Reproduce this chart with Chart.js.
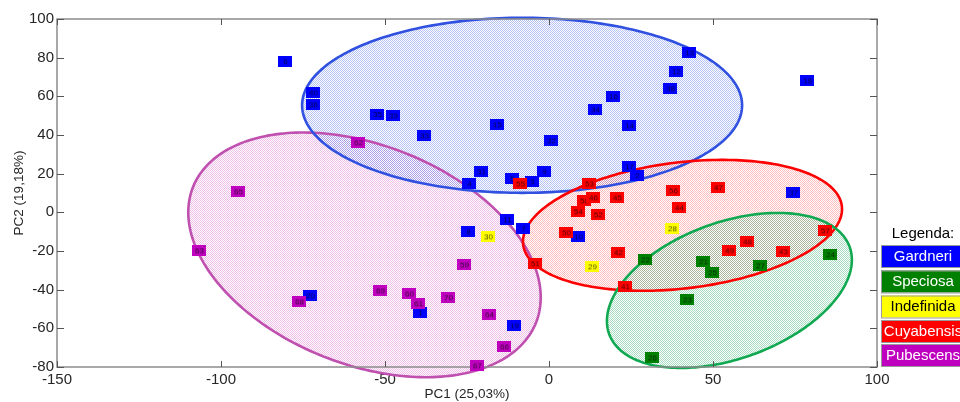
<!DOCTYPE html>
<html>
<head>
<meta charset="utf-8">
<script src="https://cdn.jsdelivr.net/npm/chart.js@4.4.1/dist/chart.umd.min.js"></script>
<style>
  html, body { margin: 0; padding: 0; background: #ffffff; }
  #wrap { width: 960px; height: 402px; }
</style>
</head>
<body>
<div id="wrap"><canvas id="pca" width="960" height="402"></canvas></div>
<script>
// PCA scores of the samples, grouped by species (sample number, PC1, PC2)
const gardneriId  = [6, 40, 36, 35, 39, 33, 15, 32, 31, 4, 5, 3, 9, 16, 34, 14, 12, 38, 13, 18, 37, 17, 2, 11, 7, 8, 10, 20, 1, 19];
const gardneriPC1 = [-80.5, -72.0, -72.0, -52.4, -47.6, -38.1, -15.9, 0.6, -20.7, -24.4, -11.3, -5.2, -1.5, 19.5, 14.0, 24.4, 38.7, 36.9, 42.7, 78.7, 74.4, 24.4, 26.8, -12.8, -7.9, -24.7, 8.8, -72.9, -39.3, -10.7];
const gardneriPC2 = [77.9, 61.8, 55.6, 50.6, 49.9, 39.6, 45.3, 37.0, 21.0, 14.7, 17.3, 15.8, 21.0, 59.8, 53.0, 44.7, 72.7, 63.9, 82.5, 68.0, 10.1, 23.5, 18.9, -3.9, -8.5, -10.1, -12.7, -43.2, -52.0, -58.7];

const speciosaId  = [22, 21, 25, 27, 24, 23, 26];
const speciosaPC1 = [29.3, 47.0, 49.7, 64.3, 85.7, 42.1, 31.4];
const speciosaPC2 = [-24.6, -25.6, -31.3, -27.7, -22.0, -45.3, -75.3];

const indefinidaId  = [30, 29, 28];
const indefinidaPC1 = [-18.6, 13.1, 37.5];
const indefinidaPC2 = [-12.7, -28.2, -8.5];

const cuyabensisId  = [55, 53, 58, 46, 45, 54, 52, 50, 42, 51, 41, 56, 47, 44, 48, 49, 43, 57];
const cuyabensisPC1 = [-8.8, 12.2, 10.7, 13.4, 20.7, 8.8, 14.9, 5.2, 21.0, -4.3, 23.2, 37.8, 51.5, 39.6, 60.4, 54.9, 71.3, 84.1];
const cuyabensisPC2 = [14.7, 14.7, 5.9, 7.5, 7.5, 0.3, -1.3, -10.6, -20.9, -26.6, -38.5, 11.1, 12.7, 2.3, -15.3, -19.9, -20.4, -9.6];

const pubescensId  = [62, 65, 63, 68, 69, 60, 61, 70, 59, 64, 66, 67];
const pubescensPC1 = [-58.2, -94.8, -106.7, -76.2, -51.5, -42.7, -39.9, -30.8, -25.9, -18.3, -13.7, -22.0];
const pubescensPC2 = [36.0, 10.6, -19.9, -46.3, -40.6, -42.2, -47.3, -44.2, -27.2, -53.0, -69.6, -79.4];

// Group ellipses in data units: centre and two conjugate semi-axis vectors
const ellipseCenter = { Gardneri: [-8.2, 55.35], Speciosa: [55.0, -40.4], Cuyabensis: [40.7, -6.73], Pubescens: [-56.25, -22.0] };
const ellipseAxisU  = { Gardneri: [67.07, 0], Speciosa: [36.66, 22.52], Cuyabensis: [48.58, 9.97], Pubescens: [52.31, -34.96] };
const ellipseAxisV  = { Gardneri: [0, 45.27], Speciosa: [-7.08, 33.17], Cuyabensis: [-2.31, 32.36], Pubescens: [12.25, 52.75] };

// Axis ticks
const pc1Ticks = [-150, -100, -50, 0, 50, 100];
const pc2Ticks = [-80, -60, -40, -20, 0, 20, 40, 60, 80, 100];

const FONT = "'Liberation Sans', Arial, Helvetica, sans-serif";

const groupStyle = {
  Gardneri:   { box: '#0000ff', legendText: '#ffffff', line: '#3050e0', dot: 'rgba(90,120,235,0.45)' },
  Speciosa:   { box: '#008000', legendText: '#ffffff', line: '#10a850', dot: 'rgba(50,175,110,0.42)' },
  Indefinida: { box: '#ffff00', legendText: '#000000' },
  Cuyabensis: { box: '#ff0000', legendText: '#ffffff', line: '#ff0000', dot: 'rgba(255,90,90,0.40)' },
  Pubescens:  { box: '#bf00bf', legendText: '#ffffff', line: '#c050b0', dot: 'rgba(215,100,200,0.42)' }
};

// Labelled sample marker: coloured box with the sample number
function markerCanvas(id, color) {
  const c = document.createElement('canvas');
  c.width = 14; c.height = 11;
  const g = c.getContext('2d');
  g.fillStyle = color;
  g.fillRect(0, 0, 14, 11);
  g.fillStyle = 'rgba(0,0,0,0.72)';
  g.font = '8px ' + FONT;
  g.textAlign = 'center';
  g.textBaseline = 'middle';
  g.fillText(String(id), 7.5, 6);
  return c;
}

function makeDataset(label, ids, pc1, pc2, order) {
  const color = groupStyle[label].box;
  const markers = ids.map(id => markerCanvas(id, color));
  return {
    label: label,
    data: pc1.map((v, i) => ({ x: v, y: pc2[i] })),
    pointStyle: markers,
    pointRadius: 7,
    backgroundColor: color,
    borderColor: color,
    clip: false,
    order: order
  };
}

function stipple(ctx, color) {
  const c = document.createElement('canvas');
  c.width = 2; c.height = 2;
  const g = c.getContext('2d');
  g.fillStyle = color;
  g.fillRect(0, 0, 1, 1);
  g.fillRect(1, 1, 1, 1);
  return ctx.createPattern(c, 'repeat');
}

const ellipsePlugin = {
  id: 'groupEllipses',
  beforeDatasetsDraw(chart) {
    const { ctx, scales: { x, y } } = chart;
    const names = ['Pubescens', 'Gardneri', 'Cuyabensis', 'Speciosa'];
    const paths = names.map(name => {
      const c = ellipseCenter[name], u = ellipseAxisU[name], v = ellipseAxisV[name];
      const cx = x.getPixelForValue(c[0]), cy = y.getPixelForValue(c[1]);
      const ux = x.getPixelForValue(c[0] + u[0]) - cx, uy = y.getPixelForValue(c[1] + u[1]) - cy;
      const vx = x.getPixelForValue(c[0] + v[0]) - cx, vy = y.getPixelForValue(c[1] + v[1]) - cy;
      const p = new Path2D();
      const n = 240;
      for (let k = 0; k <= n; k++) {
        const t = k / n * Math.PI * 2;
        const px = cx + ux * Math.cos(t) + vx * Math.sin(t);
        const py = cy + uy * Math.cos(t) + vy * Math.sin(t);
        if (k === 0) p.moveTo(px, py); else p.lineTo(px, py);
      }
      p.closePath();
      return { name, p };
    });
    ctx.save();
    paths.forEach(({ name, p }) => {
      ctx.fillStyle = stipple(ctx, groupStyle[name].dot);
      ctx.fill(p);
    });
    paths.forEach(({ name, p }) => {
      ctx.lineWidth = 2.6;
      ctx.strokeStyle = groupStyle[name].line;
      ctx.stroke(p);
    });
    ctx.restore();
  }
};

// Box around the plot with inward tick marks on all four sides
const framePlugin = {
  id: 'frame',
  beforeDatasetsDraw(chart) {
    const { ctx, chartArea: a, scales: { x, y } } = chart;
    ctx.save();
    ctx.strokeStyle = '#8c8c8c';
    ctx.lineWidth = 1.5;
    ctx.strokeRect(a.left, a.top, a.right - a.left, a.bottom - a.top);
    ctx.strokeStyle = '#555555';
    ctx.lineWidth = 1;
    ctx.beginPath();
    pc1Ticks.forEach(v => {
      const px = Math.round(x.getPixelForValue(v)) + 0.5;
      ctx.moveTo(px, a.bottom); ctx.lineTo(px, a.bottom - 6);
      ctx.moveTo(px, a.top); ctx.lineTo(px, a.top + 6);
    });
    pc2Ticks.forEach(v => {
      const py = Math.round(y.getPixelForValue(v)) + 0.5;
      ctx.moveTo(a.left, py); ctx.lineTo(a.left + 7, py);
      ctx.moveTo(a.right, py); ctx.lineTo(a.right - 7, py);
    });
    ctx.stroke();
    ctx.restore();
  }
};

// Legend panel on the right
const legendPlugin = {
  id: 'sideLegend',
  afterDraw(chart) {
    const { ctx } = chart;
    ctx.save();
    ctx.font = '15px ' + FONT;
    ctx.textAlign = 'center';
    ctx.textBaseline = 'middle';
    ctx.fillStyle = '#000000';
    ctx.fillText('Legenda:', 923, 234);
    const top = [245, 270.5, 295.5, 320, 344];
    chart.data.datasets.forEach((ds, i) => {
      const st = groupStyle[ds.label];
      ctx.fillStyle = st.box;
      ctx.fillRect(881, top[i], 86, 22);
      ctx.strokeStyle = '#9a9a9a';
      ctx.lineWidth = 1;
      ctx.strokeRect(881.5, top[i] + 0.5, 86, 22);
      ctx.fillStyle = st.legendText;
      ctx.fillText(ds.label, 923, top[i] + 11.5);
    });
    ctx.restore();
  }
};

const datasets = [
  makeDataset('Gardneri', gardneriId, gardneriPC1, gardneriPC2, 5),
  makeDataset('Speciosa', speciosaId, speciosaPC1, speciosaPC2, 3),
  makeDataset('Indefinida', indefinidaId, indefinidaPC1, indefinidaPC2, 2),
  makeDataset('Cuyabensis', cuyabensisId, cuyabensisPC1, cuyabensisPC2, 4),
  makeDataset('Pubescens', pubescensId, pubescensPC1, pubescensPC2, 1)
];

new Chart(document.getElementById('pca'), {
  type: 'scatter',
  data: { datasets },
  options: {
    responsive: false,
    animation: false,
    devicePixelRatio: 1,
    events: [],
    layout: { padding: { top: 19, right: 83, left: 0, bottom: 0 } },
    plugins: { legend: { display: false }, tooltip: { enabled: false } },
    scales: {
      x: {
        type: 'linear',
        min: pc1Ticks[0],
        max: pc1Ticks[pc1Ticks.length - 1],
        afterBuildTicks(s) { s.ticks = pc1Ticks.map(v => ({ value: v })); },
        afterFit(s) { s.height = 35; },
        grid: { display: false, drawTicks: false },
        border: { display: false },
        ticks: { color: '#262626', font: { family: FONT, size: 15 }, padding: 4, maxRotation: 0, autoSkip: false },
        title: { display: true, text: 'PC1 (25,03%)', color: '#262626', font: { family: FONT, size: 13.5 }, padding: { top: 0, bottom: 0 } }
      },
      y: {
        type: 'linear',
        min: pc2Ticks[0],
        max: pc2Ticks[pc2Ticks.length - 1],
        afterBuildTicks(s) { s.ticks = pc2Ticks.map(v => ({ value: v })); },
        afterFit(s) { s.width = 57; },
        grid: { display: false, drawTicks: false },
        border: { display: false },
        ticks: { color: '#262626', font: { family: FONT, size: 15 }, padding: 3, autoSkip: false },
        title: { display: true, text: 'PC2 (19,18%)', color: '#262626', font: { family: FONT, size: 13.5 }, padding: { top: 11, bottom: 0 } }
      }
    }
  },
  plugins: [ellipsePlugin, framePlugin, legendPlugin]
});
</script>
</body>
</html>
